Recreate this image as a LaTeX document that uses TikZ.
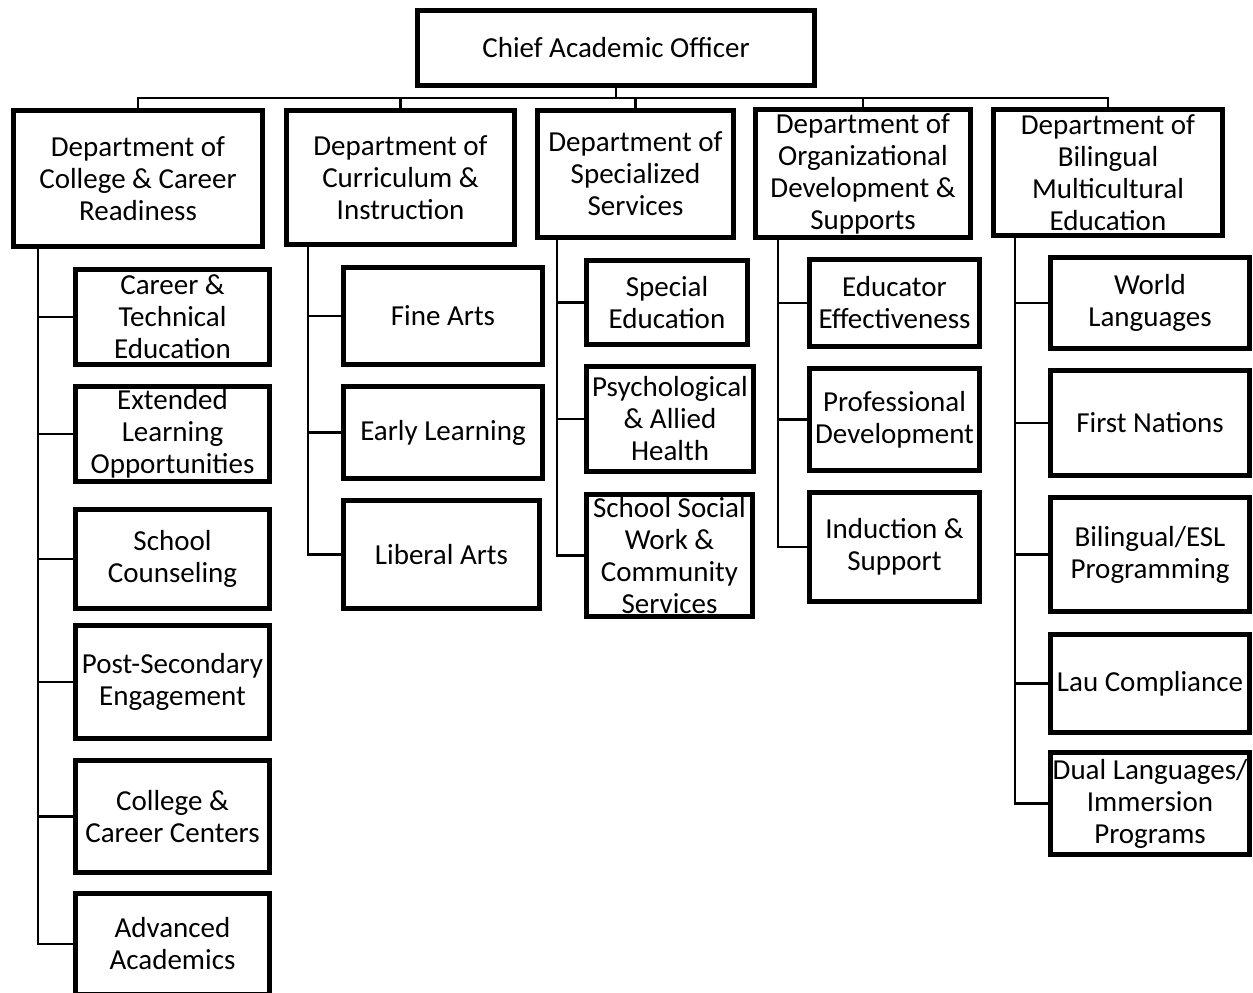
\documentclass[tikz,border=0pt]{standalone}
\usepackage{fontspec}
\setmainfont{Carlito}
\usepackage{tikz}
\usepackage{xcolor}
\usetikzlibrary{positioning,calc}
\definecolor{ink}{HTML}{000000}
\definecolor{paper}{HTML}{FFFFFF}
\newcommand\orgfont{\fontsize{29}{32}\selectfont}
\tikzset{
  orgbox/.style={draw=ink, fill=paper, line width=5pt, inner sep=0pt,
                 align=center, font=\orgfont, text=ink},
  link/.style={draw=ink, line width=2.8pt}
}

\begin{document}
\begin{tikzpicture}[x=1pt,y=-1pt]
        \clip (0,0) rectangle (1253,993);
        \fill[paper] (0,0) rectangle (1253,993);
        % top and departments
        \node[orgbox,minimum width=397pt,minimum height=75pt] (cao) at (616,48) {Chief Academic Officer};
        \node[orgbox,minimum width=249pt,minimum height=136pt] (dccr) at (138,178.5) {Department of\\College \& Career\\Readiness};
        \node[orgbox,minimum width=228pt,minimum height=134pt] (dci) at (400.5,177.5) {Department of\\Curriculum \&\\Instruction};
        \node[orgbox,minimum width=196pt,minimum height=127pt] (dss) at (635.5,174) {Department of\\Specialized\\Services};
        \node[orgbox,minimum width=215pt,minimum height=128pt] (dods) at (863,173.5) {Department of\\Organizational\\Development \&\\Supports};
        \node[orgbox,minimum width=229pt,minimum height=126pt] (dbme) at (1108,172.5) {Department of\\Bilingual\\Multicultural\\Education};
        \coordinate (bus) at (616,98);
        \draw[link] (cao.south) -- (bus);
        \foreach \d in {dccr,dci,dss,dods,dbme} {
          \draw[link] (\d.north) |- (bus);
        }
        % college & career readiness
        \node[orgbox,minimum width=194pt,minimum height=95pt] (cte) at (172.5,317) {Career \&\\Technical\\Education};
        \node[orgbox,minimum width=194pt,minimum height=95pt] (elo) at (172.5,434) {Extended\\Learning\\Opportunities};
        \node[orgbox,minimum width=194pt,minimum height=99pt] (scou) at (172.5,559) {School\\Counseling};
        \node[orgbox,minimum width=194pt,minimum height=113pt] (pse) at (172.5,682) {Post-Secondary\\Engagement};
        \node[orgbox,minimum width=194pt,minimum height=112pt] (ccc) at (172.5,816.5) {College \&\\Career Centers};
        \node[orgbox,minimum width=194pt,minimum height=101pt] (adv) at (172.5,944) {Advanced\\Academics};
        % curriculum & instruction
        \node[orgbox,minimum width=199pt,minimum height=97pt] (fa) at (443,316) {Fine Arts};
        \node[orgbox,minimum width=199pt,minimum height=92pt] (el) at (443,432.5) {Early Learning};
        \node[orgbox,minimum width=196pt,minimum height=108pt] (la) at (441.5,554.5) {Liberal Arts};
        % specialized services
        \node[orgbox,minimum width=161pt,minimum height=84pt] (sped) at (667,302.5) {Special\\Education};
        \node[orgbox,minimum width=167pt,minimum height=105pt] (pah) at (670,419) {Psychological\\\& Allied\\Health};
        \node[orgbox,minimum width=166pt,minimum height=122pt] (sswc) at (669.5,555.5) {School Social\\Work \&\\Community\\Services};
        % organizational development & supports
        \node[orgbox,minimum width=170pt,minimum height=87pt] (ee) at (894.5,303) {Educator\\Effectiveness};
        \node[orgbox,minimum width=170pt,minimum height=102pt] (pd) at (894.5,419.5) {Professional\\Development};
        \node[orgbox,minimum width=170pt,minimum height=109pt] (is) at (894.5,547) {Induction \&\\Support};
        % bilingual multicultural education
        \node[orgbox,minimum width=199pt,minimum height=91pt] (wl) at (1150,303) {World\\Languages};
        \node[orgbox,minimum width=199pt,minimum height=105pt] (fn) at (1150,423) {First Nations};
        \node[orgbox,minimum width=199pt,minimum height=114pt] (besl) at (1150,554.5) {Bilingual/ESL\\Programming};
        \node[orgbox,minimum width=199pt,minimum height=98pt] (lau) at (1150,683.5) {Lau Compliance};
        \node[orgbox,minimum width=199pt,minimum height=102pt] (dli) at (1150,803.5) {Dual Languages/\\Immersion\\Programs};
        % spines
        \coordinate (sp1) at (38,0);
        \coordinate (sp2) at (308,0);
        \coordinate (sp3) at (557,0);
        \coordinate (sp4) at (778,0);
        \coordinate (sp5) at (1015,0);
        \foreach \u in {cte,elo,scou,pse,ccc,adv} {
          \draw[link] (dccr.south -| sp1) |- (\u.west);
        }
        \foreach \u in {fa,el,la} {
          \draw[link] (dci.south -| sp2) |- (\u.west);
        }
        \foreach \u in {sped,pah,sswc} {
          \draw[link] (dss.south -| sp3) |- (\u.west);
        }
        \foreach \u in {ee,pd,is} {
          \draw[link] (dods.south -| sp4) |- (\u.west);
        }
        \foreach \u in {wl,fn,besl,lau,dli} {
          \draw[link] (dbme.south -| sp5) |- (\u.west);
        }
      \end{tikzpicture}
\end{document}
